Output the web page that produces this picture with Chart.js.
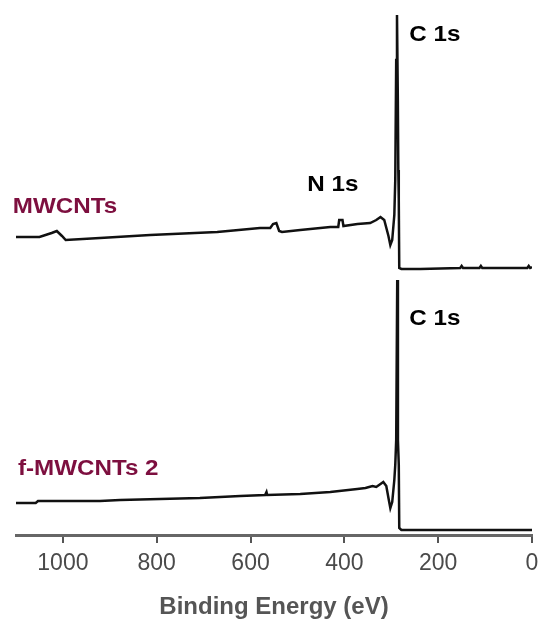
<!DOCTYPE html>
<html>
<head>
<meta charset="utf-8">
<script src="https://cdn.jsdelivr.net/npm/chart.js@4.4.1/dist/chart.umd.min.js"></script>
<style>
  html, body { margin: 0; padding: 0; background: #fff; }
  #wrap { width: 541px; height: 619px; position: relative; }
</style>
</head>
<body>
<div id="wrap"><canvas id="xpsChart"></canvas></div>
<script>
// binding energy (eV) and intensity (a.u., stacked offset)
const mwcntsEnergy = [1100, 1050, 1024, 1013, 1002, 994, 921, 814, 671, 580, 558, 552, 545, 539, 533, 494, 430, 413, 411, 404, 402, 372, 345, 332, 323, 315, 306, 302, 298, 293.5, 291.5, 289.5, 287.8, 286, 285, 284, 283, 278.5, 238, 153, 150, 147, 112, 109, 106, 67, 10, 7, 4, 0];
const mwcntsCounts = [298, 298, 302, 304, 299, 295, 297, 300, 303, 307, 307, 311, 312, 304, 303, 305, 308, 308, 315, 315, 309, 311, 312, 315, 318, 315, 299, 290, 295, 320, 355, 475, 520, 435, 365, 335, 267, 266, 266, 267, 269, 267, 267, 269, 267, 267, 267, 269, 267, 268];

const fmwcntsEnergy = [1100, 1058, 1053, 921, 878, 793, 708, 622, 569, 566, 564.5, 494, 430, 372.5, 355, 340, 332, 323, 317, 310.6, 306, 302, 298, 293.5, 291.5, 289.5, 287.3, 285.8, 284, 283, 278.5, 0];
const fmwcntsCounts = [32, 32, 34, 34, 35, 36, 37, 39, 40, 43, 40, 41, 43, 46, 47, 49, 48, 51, 53, 49, 37, 27, 33, 55, 70, 95, 255, 95, 70, 7, 5, 5];

const tickValues = [0, 200, 400, 600, 800, 1000];

// text labels anchored in data coordinates (eV, intensity)
const peakLabels = [
  { text: 'C 1s', energy: 261.5, counts: 494, color: '#000' },
  { text: 'N 1s', energy: 479, counts: 344, color: '#000' },
  { text: 'C 1s', energy: 261.5, counts: 210, color: '#000' },
  { text: 'MWCNTs', energy: 1107, counts: 322, color: '#7d0f3f' },
  { text: 'f-MWCNTs 2', energy: 1096, counts: 60, color: '#7d0f3f' }
];

const toPoints = (xs, ys) => xs.map((x, i) => ({ x: x, y: ys[i] }));

const labelPlugin = {
  id: 'peakLabels',
  afterDraw(chart) {
    const ctx = chart.ctx;
    const xs = chart.scales.x;
    const ys = chart.scales.y;
    ctx.save();
    ctx.font = 'bold 22px "Liberation Sans", Arial, sans-serif';
    ctx.textAlign = 'left';
    ctx.textBaseline = 'alphabetic';
    peakLabels.forEach(l => {
      const px = xs.getPixelForValue(l.energy);
      const py = ys.getPixelForValue(l.counts);
      ctx.save();
      ctx.translate(px, py);
      ctx.scale(1.1, 1);
      ctx.fillStyle = l.color;
      ctx.fillText(l.text, 0, 0);
      ctx.restore();
    });
    ctx.restore();
  }
};

const ctx = document.getElementById('xpsChart').getContext('2d');
new Chart(ctx, {
  type: 'line',
  data: {
    datasets: [
      {
        label: 'MWCNTs',
        data: toPoints(mwcntsEnergy, mwcntsCounts),
        borderColor: '#111',
        borderWidth: 2.5,
        pointRadius: 0,
        tension: 0,
        fill: false
      },
      {
        label: 'f-MWCNTs 2',
        data: toPoints(fmwcntsEnergy, fmwcntsCounts),
        borderColor: '#111',
        borderWidth: 2.5,
        pointRadius: 0,
        tension: 0,
        fill: false
      }
    ]
  },
  options: {
    responsive: true,
    maintainAspectRatio: false,
    animation: false,
    layout: { padding: { left: 16, right: 9, top: 15, bottom: 0 } },
    plugins: {
      legend: { display: false },
      tooltip: { enabled: false }
    },
    scales: {
      x: {
        type: 'linear',
        reverse: true,
        min: 0,
        max: 1100,
        afterBuildTicks: scale => { scale.ticks = tickValues.map(v => ({ value: v })); },
        afterFit: scale => { scale.height = 84; },
        grid: {
          drawOnChartArea: false,
          drawTicks: true,
          tickLength: 8,
          color: '#555',
          lineWidth: 2
        },
        border: { display: true, color: '#666', width: 3 },
        ticks: {
          padding: 7,
          maxRotation: 0,
          color: '#4a4a4a',
          callback: value => String(value),
          font: { family: '"Liberation Sans", Arial, sans-serif', size: 23 }
        },
        title: {
          display: true,
          text: 'Binding Energy (eV)',
          color: '#555',
          padding: 0,
          font: { family: '"Liberation Sans", Arial, sans-serif', size: 24, weight: 'bold', lineHeight: 1 }
        }
      },
      y: {
        display: false,
        min: 0,
        max: 520
      }
    }
  },
  plugins: [labelPlugin]
});
</script>
</body>
</html>
